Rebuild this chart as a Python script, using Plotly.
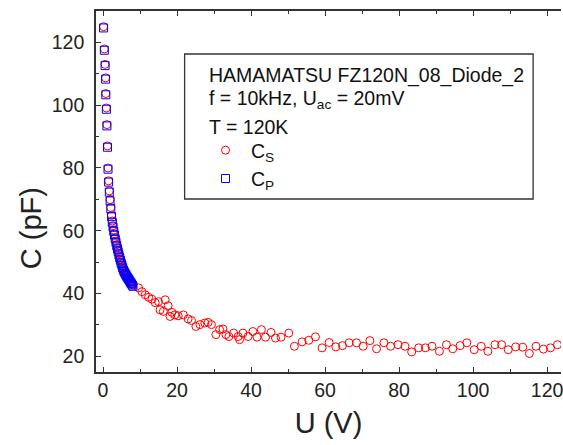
import plotly.graph_objects as go

# Cp (blue squares), low-voltage region only
u_p = [0.15, 0.35, 0.55, 0.7, 0.75, 0.9, 1.05, 1.2, 1.35, 1.5, 1.7, 1.9, 2.1, 2.3, 2.5, 2.7,
       2.9, 3.1, 3.3, 3.5, 3.7, 3.9, 4.1, 4.3, 4.5, 4.7, 4.9, 5.1, 5.3, 5.5, 5.7, 5.9,
       6.1, 6.3, 6.5, 6.7, 6.9, 7.1, 7.3, 7.5, 7.7, 7.9, 8.1]
c_p = [124.6, 117.5, 112.6, 108.3, 103.3, 98.7, 93.4, 86.6, 79.6, 75.5, 72.3, 69.5, 67.0,
       64.5, 62.7, 61.2, 59.8, 58.6, 57.4, 56.3, 55.2, 54.2, 53.3, 52.3, 51.4, 50.6, 49.7,
       49.0, 48.2, 47.5, 47.0, 46.5, 46.1, 45.7, 45.3, 44.9, 44.6, 44.2, 43.8, 43.4, 43.1,
       42.7, 42.3]

# Cs (red circles), beyond the Cp range
u_s_hi = [9.6, 10.5, 11.4, 12.3, 13.2, 14.1, 15.0, 15.4, 16.3, 16.8, 17.6, 18.1, 18.6, 19.4,
          20.3, 21.7, 23.0, 23.9, 25.1, 26.2, 27.5, 28.4, 29.3, 30.5, 31.5, 32.4, 33.2,
          34.0, 35.3, 36.5, 36.9, 37.8, 39.2, 40.5, 41.6, 42.8, 43.9, 45.4, 46.6, 48.1,
          50.2, 51.7, 53.8, 55.6, 57.4, 59.2, 61.1, 62.9, 64.7, 66.5, 68.5, 70.3, 72.1,
          73.9, 75.9, 77.7, 79.7, 81.6, 83.4, 85.3, 87.1, 88.9, 90.9, 92.8, 94.5, 96.5,
          98.3, 100.3, 102.2, 104.0, 105.9, 107.7, 109.5, 111.5, 113.4, 115.2, 117.0,
          119.0, 120.9, 122.8]
c_s_hi = [41.8, 40.6, 39.6, 38.8, 38.2, 37.1, 37.4, 34.8, 34.3, 38.0, 36.1, 32.7, 34.0, 33.2,
          32.9, 33.2, 31.9, 31.4, 29.5, 30.1, 30.6, 30.8, 30.1, 26.9, 28.5, 28.7, 26.9,
          26.3, 27.4, 26.3, 25.3, 27.4, 26.3, 27.9, 26.1, 28.5, 26.1, 27.6, 25.8, 26.1,
          27.4, 23.2, 24.6, 25.1, 26.2, 22.7, 24.4, 23.0, 23.4, 24.3, 24.3, 23.2, 25.0,
          22.4, 24.3, 23.2, 23.7, 23.2, 21.4, 22.7, 22.7, 23.2, 21.6, 23.7, 22.4, 23.4,
          24.3, 22.1, 23.2, 21.6, 23.7, 23.7, 22.1, 23.0, 22.9, 20.9, 23.2, 22.3, 22.7,
          23.7]
cs_offset = 0.4
u_s = u_p + u_s_hi
c_s = [v + cs_offset for v in c_p] + c_s_hi

x_ticks = [0, 20, 40, 60, 80, 100, 120]
y_ticks = [20, 40, 60, 80, 100, 120]

FONT = "Liberation Sans, Arial, sans-serif"

fig = go.Figure()
fig.add_trace(go.Scatter(
    x=u_s, y=c_s, mode="markers", name="\u00a0C<sub>S</sub>",
    marker=dict(symbol="circle-open", size=8, color="#ff0000", line=dict(width=1, color="#ff0000")),
))
fig.add_trace(go.Scatter(
    x=u_p, y=c_p, mode="markers", name="\u00a0C<sub>P</sub>",
    marker=dict(symbol="square-open", size=8, color="#0000ff", line=dict(width=1, color="#0000ff")),
))

L, T, B = 96, 11, 73
W, H = 563, 445
pw = W - L
ph = H - T - B

def px(xp):
    return (xp - L) / pw

def py(yp):
    return 1 - (yp - T) / ph

axis_common = dict(
    showline=True, linecolor="#333333", linewidth=1.6,
    ticks="inside", ticklen=5, tickwidth=1.3, tickcolor="#333333",
    showgrid=False, zeroline=False,
    tickfont=dict(family=FONT, size=19.5, color="#222222"),
    ticklabeloverflow="allow",
)

fig.update_xaxes(
    range=[-1.9, 123.75], tickvals=x_ticks, mirror="allticks",
    minor=dict(ticks="inside", ticklen=3, dtick=10, tick0=0, tickcolor="#333333", tickwidth=1.2),
    title=dict(text="U (V)", font=dict(family=FONT, size=29, color="#222222"), standoff=12),
    **axis_common,
)
fig.update_yaxes(
    range=[15, 130], tickvals=y_ticks, mirror=False,
    minor=dict(ticks="inside", ticklen=3, dtick=10, tick0=0, tickcolor="#333333", tickwidth=1.2),
    ticklabelstandoff=6,
    **axis_common,
)

# y-axis title, placed as in the reference (below the vertical centre)
fig.add_annotation(text="C (pF)", xref="paper", yref="paper", x=px(31), y=py(228),
                   xanchor="center", yanchor="middle", textangle=-90, showarrow=False,
                   font=dict(family=FONT, size=29, color="#222222"))

# legend box
fig.add_shape(type="rect", xref="paper", yref="paper",
              x0=px(185), x1=px(535), y0=py(199), y1=py(54),
              line=dict(color="#333333", width=1.3), fillcolor="white", layer="below")

lines = ["HAMAMATSU FZ120N_08_Diode_2", "f = 10kHz, U<sub>ac</sub> = 20mV", "T = 120K"]
ys = [75, 100, 127]
for txt, yy in zip(lines, ys):
    fig.add_annotation(text=txt, xref="paper", yref="paper", x=px(207), y=py(yy),
                       xanchor="left", yanchor="middle", showarrow=False,
                       font=dict(family=FONT, size=19.5, color="#111111"))

fig.update_layout(
    width=W, height=H,
    margin=dict(l=L, r=0, t=T, b=B),
    plot_bgcolor="white", paper_bgcolor="white",
    showlegend=True,
    legend=dict(x=px(206), y=py(131), xanchor="left", yanchor="top",
                bgcolor="rgba(0,0,0,0)", borderwidth=0,
                font=dict(family=FONT, size=19.5, color="#111111"),
                tracegroupgap=0),
)

fig.write_html("out.html")
